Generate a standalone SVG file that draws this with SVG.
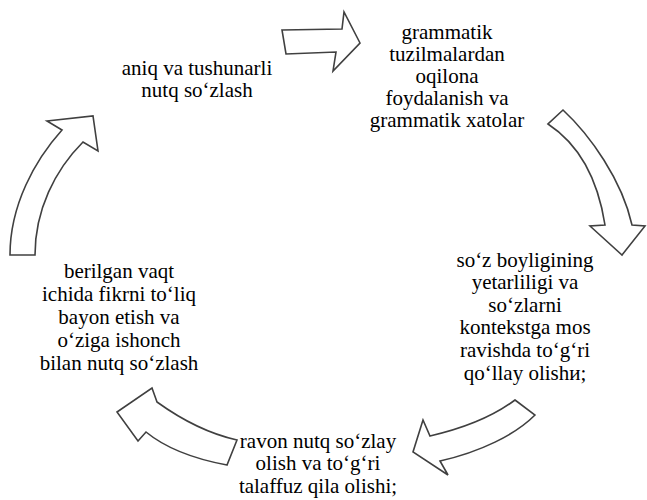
<svg xmlns="http://www.w3.org/2000/svg" width="647" height="500" viewBox="0 0 647 500">
<defs>
<style>
.arr{fill:#ffffff;stroke:#404040;stroke-width:1.6;stroke-linejoin:miter}
text{font-family:'Liberation Serif','Times New Roman','DejaVu Serif',serif;font-size:21px;fill:#000000;text-anchor:middle}
</style>
</defs>
<rect width="647" height="500" fill="#ffffff"/>
<g id="connectors">
<path class="arr" d="M282,30 L342,29 L344,12 L360,43 L333,71 L336,52 L286,54 Z"/>
<path class="arr" d="M563,110 C590,135 622,180 632,225 L645,226 L622,255 L590,226 L605,225 C598,180 580,145 548,124 Z"/>
<path class="arr" d="M515,400 L535,415 C515,435 480,452 440,461 L448,475 L413,452 L423,420 L430,436 C465,428 495,415 515,400 Z"/>
<path class="arr" d="M237,440 L227,465 C200,460 168,450 146,432 L138,441 L117,412 L152,388 L157,402 C182,420 210,434 237,440 Z"/>
<path class="arr" d="M10,255 L35,255 C35,210 55,170 83,142 L98,151 L93,116 L47,121 L62,130 C35,160 10,205 10,255 Z"/>
</g>
<g id="n1">
<text x="197" y="75">aniq va tushunarli</text>
<text x="197" y="97">nutq so‘zlash</text>
</g>
<g id="n2">
<text x="447" y="39">grammatik</text>
<text x="447" y="61">tuzilmalardan</text>
<text x="447" y="83">oqilona</text>
<text x="447" y="105">foydalanish va</text>
<text x="447" y="127">grammatik xatolar</text>
</g>
<g id="n3">
<text x="525" y="267">so‘z boyligining</text>
<text x="525" y="289">yetarliligi va</text>
<text x="525" y="312">so‘zlarni</text>
<text x="525" y="334">kontekstga mos</text>
<text x="525" y="357">ravishda to‘g‘ri</text>
<text x="525" y="380">qo‘llay olishи;</text>
</g>
<g id="n4">
<text x="318" y="448">ravon nutq so‘zlay</text>
<text x="318" y="470">olish va to‘g‘ri</text>
<text x="318" y="493">talaffuz qila olishi;</text>
</g>
<g id="n5">
<text x="119" y="278">berilgan vaqt</text>
<text x="119" y="301">ichida fikrni to‘liq</text>
<text x="119" y="324">bayon etish va</text>
<text x="119" y="347">o‘ziga ishonch</text>
<text x="119" y="370">bilan nutq so‘zlash</text>
</g>
</svg>
